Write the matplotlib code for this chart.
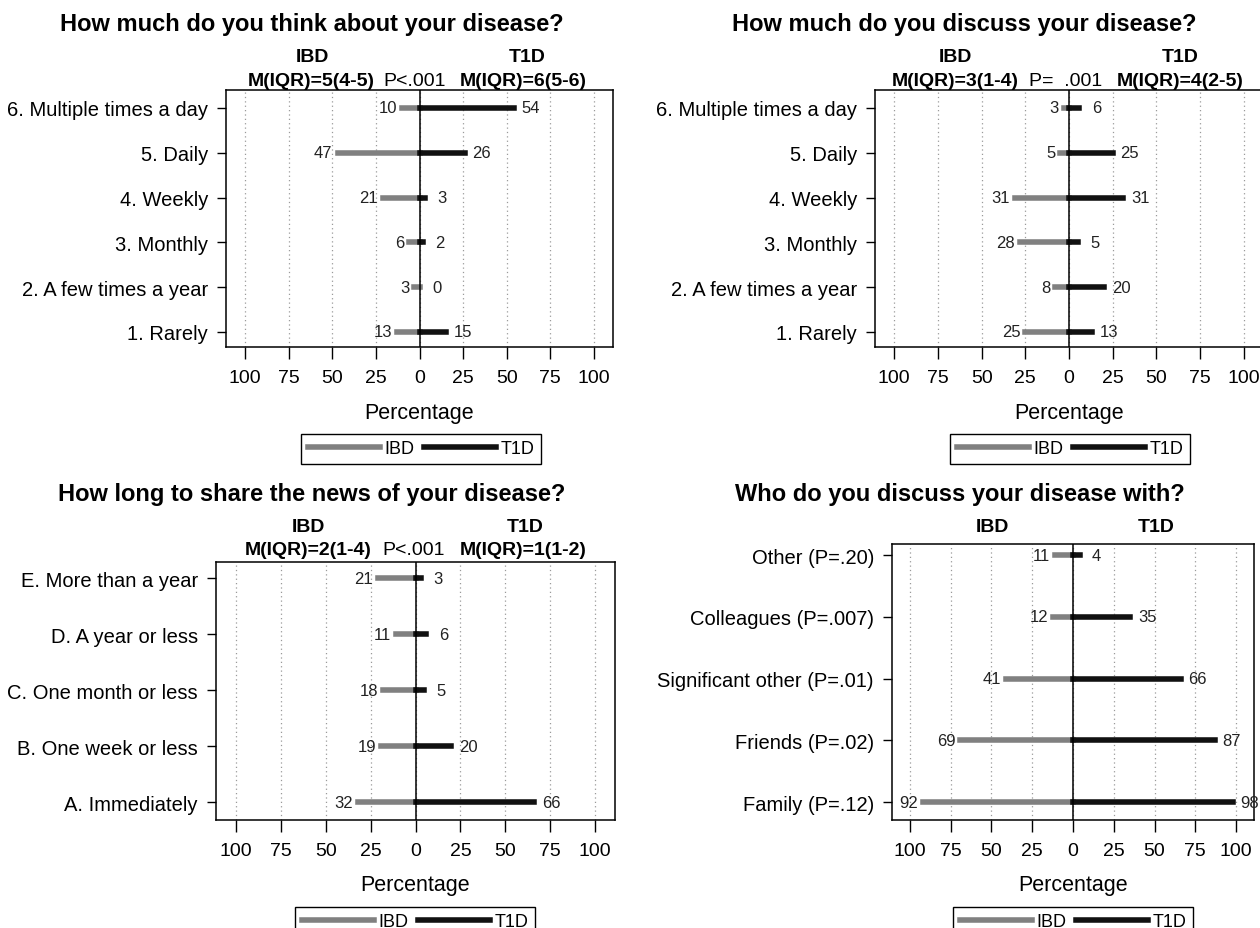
import numpy as np
import matplotlib
matplotlib.use('agg')
import matplotlib.pyplot as plt
from matplotlib.lines import Line2D

plt.rcParams['font.family'] = ['Liberation Sans', 'DejaVu Sans']

W, H = 1260, 929
GRAY = '#808080'
DARK = '#111111'
BAR_LW = 4.0

# survey answers, listed top to bottom as they appear on each panel
freq_levels = ["6. Multiple times a day", "5. Daily", "4. Weekly", "3. Monthly",
               "2. A few times a year", "1. Rarely"]
think_ibd = [10, 47, 21, 6, 3, 13]
think_t1d = [54, 26, 3, 2, 0, 15]
discuss_ibd = [3, 5, 31, 28, 8, 25]
discuss_t1d = [6, 25, 31, 5, 20, 13]

share_levels = ["E. More than a year", "D. A year or less", "C. One month or less",
                "B. One week or less", "A. Immediately"]
share_ibd = [21, 11, 18, 19, 32]
share_t1d = [3, 6, 5, 20, 66]

who_levels = ["Other (P=.20)", "Colleagues (P=.007)", "Significant other (P=.01)",
              "Friends (P=.02)", "Family (P=.12)"]
who_ibd = [11, 12, 41, 69, 92]
who_t1d = [4, 35, 66, 87, 98]

tick_vals = [-100, -75, -50, -25, 0, 25, 50, 75, 100]
tick_labels = ["100", "75", "50", "25", "0", "25", "50", "75", "100"]


def fx(x):
    return x / W


def fy(y):
    return 1 - y / H


def make_axes(fig, left, right, top, bottom):
    return fig.add_axes([fx(left), fy(bottom), (right - left) / W, (bottom - top) / H])


def header(x, y, s, bold=True, size=14):
    fig.text(fx(x), fy(y), s, ha='center', va='center', fontsize=size,
             fontweight='bold' if bold else 'normal')


def draw_panel(ax, levels, ibd, t1d, ylim, box, legend_xy):
    n = len(levels)
    ypos = np.arange(n, 0, -1)
    ibd = np.array(ibd)
    t1d = np.array(t1d)

    ax.grid(axis='x', linestyle=(0, (1, 2.5)), color='#9a9a9a', linewidth=0.9)
    ax.hlines(ypos, -ibd, 0, color=GRAY, linewidth=BAR_LW, capstyle='projecting', zorder=3)
    ax.hlines(ypos, 0, t1d, color=DARK, linewidth=BAR_LW, capstyle='projecting', zorder=4)
    ax.axvline(0, color='black', linewidth=1.1, zorder=5)

    for yi, v in zip(ypos, ibd):
        ax.annotate(str(v), xy=(-v, yi), xytext=(-5, 0), textcoords='offset pixels',
                    ha='right', va='center', fontsize=12, color='#222222')
    for yi, v in zip(ypos, t1d):
        ax.annotate(str(v), xy=(v, yi), xytext=(17, 0), textcoords='offset pixels',
                    ha='center', va='center', fontsize=12, color='#222222')

    ax.set_xlim(-111, 111)
    ax.set_ylim(*ylim)
    ax.set_xticks(tick_vals)
    ax.set_xticklabels(tick_labels, fontsize=14)
    ax.set_yticks(ypos)
    ax.set_yticklabels(levels, fontsize=14.5)
    ax.tick_params(axis='x', length=8.6, width=1.0, pad=7)
    ax.tick_params(axis='y', length=6.5, width=1.0, pad=6.5)
    for s in ax.spines.values():
        s.set_linewidth(1.1)

    left, right, top, bottom = box
    ax.set_xlabel("Percentage", fontsize=15.5)
    ax.xaxis.label.set_va('center')
    ax.xaxis.set_label_coords(0.5, -65 / (bottom - top))

    handles = [Line2D([], [], color=GRAY, linewidth=BAR_LW),
               Line2D([], [], color=DARK, linewidth=BAR_LW)]
    leg = ax.legend(handles, ["IBD", "T1D"], loc='center', ncol=2,
                    bbox_to_anchor=(fx(legend_xy[0]), fy(legend_xy[1])),
                    bbox_transform=ax.figure.transFigure, frameon=True, fancybox=False,
                    edgecolor='black', framealpha=1, fontsize=13, handlelength=4.0,
                    handletextpad=0.25, columnspacing=0.5, borderpad=0.35,
                    borderaxespad=0)
    leg.get_frame().set_linewidth(1.0)


fig = plt.figure(figsize=(W / 100, H / 100), dpi=100)

# top left
box1 = (226, 613, 91, 348)
ax1 = make_axes(fig, *box1)
draw_panel(ax1, freq_levels, think_ibd, think_t1d, (0.665, 6.40), box1, (421, 450))
header(312, 25, "How much do you think about your disease?", size=17)
header(312, 58, "IBD")
header(527, 58, "T1D")
header(311, 82, "M(IQR)=5(4-5)")
header(415, 82, "P<.001", bold=False)
header(523, 82, "M(IQR)=6(5-6)")

# top right
box2 = (875, 1263, 91, 348)
ax2 = make_axes(fig, *box2)
draw_panel(ax2, freq_levels, discuss_ibd, discuss_t1d, (0.665, 6.40), box2, (1070, 450))
header(964, 25, "How much do you discuss your disease?", size=17)
header(955, 58, "IBD")
header(1180, 58, "T1D")
header(955, 82, "M(IQR)=3(1-4)")
header(1066, 82, "P=  .001", bold=False)
header(1180, 82, "M(IQR)=4(2-5)")

# bottom left
box3 = (216, 615, 563, 821)
ax3 = make_axes(fig, *box3)
draw_panel(ax3, share_levels, share_ibd, share_t1d, (0.68, 5.29), box3, (415, 923))
header(312, 495, "How long to share the news of your disease?", size=17)
header(308, 528, "IBD")
header(525, 528, "T1D")
header(308, 551, "M(IQR)=2(1-4)")
header(414, 551, "P<.001", bold=False)
header(523, 551, "M(IQR)=1(1-2)")

# bottom right
box4 = (892, 1254, 545, 821)
ax4 = make_axes(fig, *box4)
draw_panel(ax4, who_levels, who_ibd, who_t1d, (0.71, 5.18), box4, (1073, 923))
header(960, 495, "Who do you discuss your disease with?", size=17)
header(992, 527, "IBD")
header(1156, 527, "T1D")

fig.savefig('out.png', dpi=100)
